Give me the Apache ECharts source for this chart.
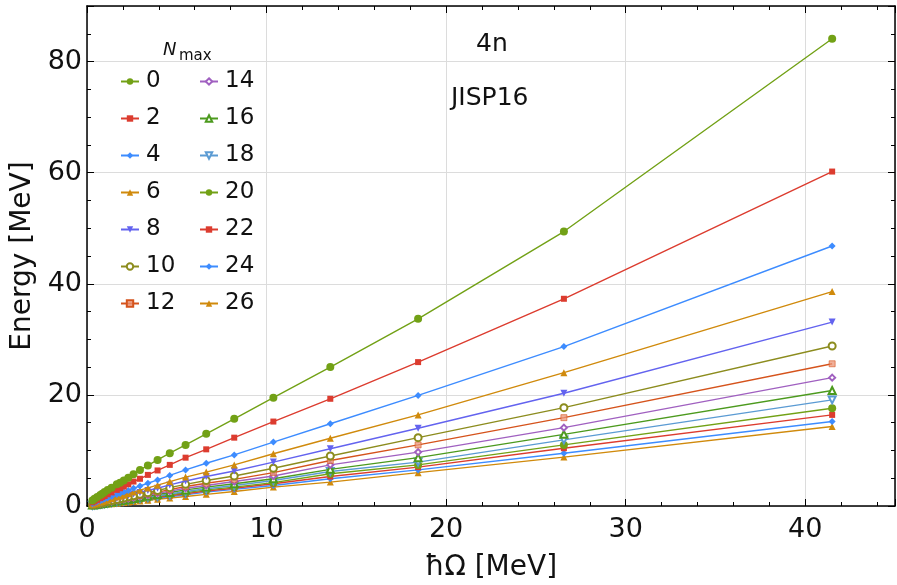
<!DOCTYPE html>
<html>
<head>
<meta charset="utf-8">
<script src="https://cdn.jsdelivr.net/npm/echarts@6/dist/echarts.min.js"></script>
<style>
html, body { margin: 0; padding: 0; background: #fff; }
#main { width: 897px; height: 585px; }
</style>
</head>
<body>
<div id="main"></div>
<script>
// hbar*Omega values [MeV], shared by every Nmax curve
var hw = [41.5, 26.56, 18.44, 13.55, 10.38, 8.2, 6.64, 5.49, 4.61, 3.93, 3.39, 2.95, 2.59, 2.3, 2.05, 1.84, 1.66, 1.37, 1.15, 0.98, 0.85, 0.74, 0.57, 0.42, 0.3];

var nmaxList = ['0', '2', '4', '6', '8', '10', '12', '14', '16', '18', '20', '22', '24', '26'];

// energies [MeV] per Nmax, same order as hw
var e0  = [84.1, 49.4, 33.7, 25.0, 19.5, 15.7, 13.0, 11.0, 9.5, 8.3, 7.3, 6.5, 5.7, 5.1, 4.6, 4.2, 3.9, 3.3, 2.9, 2.5, 2.2, 2.0, 1.6, 1.3, 1.0];
var e2  = [60.2, 37.3, 25.9, 19.3, 15.2, 12.3, 10.2, 8.7, 7.4, 6.4, 5.6, 4.9, 4.4, 3.9, 3.5, 3.2, 2.9, 2.45, 2.1, 1.8, 1.6, 1.4, 1.1, 0.85, 0.65];
var e4  = [46.8, 28.7, 19.9, 14.8, 11.5, 9.2, 7.7, 6.5, 5.5, 4.7, 4.1, 3.6, 3.2, 2.8, 2.5, 2.25, 2.05, 1.7, 1.45, 1.25, 1.1, 0.95, 0.75, 0.55, 0.4];
var e6  = [38.6, 24.0, 16.4, 12.2, 9.4, 7.4, 6.1, 5.2, 4.4, 3.75, 3.25, 2.85, 2.5, 2.2, 1.95, 1.75, 1.6, 1.3, 1.1, 0.95, 0.82, 0.72, 0.55, 0.41, 0.3];
var e8  = [33.1, 20.3, 14.0, 10.3, 7.9, 6.3, 5.3, 4.5, 3.8, 3.2, 2.8, 2.45, 2.15, 1.9, 1.7, 1.5, 1.35, 1.12, 0.95, 0.8, 0.7, 0.6, 0.47, 0.35, 0.25];
var e10 = [28.8, 17.7, 12.3, 9.0, 6.8, 5.4, 4.6, 3.9, 3.3, 2.8, 2.4, 2.1, 1.85, 1.65, 1.45, 1.3, 1.18, 0.97, 0.82, 0.7, 0.6, 0.52, 0.4, 0.3, 0.21];
var e12 = [25.6, 15.9, 11.0, 8.2, 6.0, 4.8, 4.1, 3.5, 2.95, 2.5, 2.17, 1.9, 1.66, 1.47, 1.31, 1.18, 1.06, 0.88, 0.74, 0.63, 0.54, 0.47, 0.36, 0.27, 0.19];
var e14 = [23.1, 14.1, 9.7, 7.4, 5.4, 4.4, 3.7, 3.2, 2.67, 2.28, 1.97, 1.71, 1.5, 1.33, 1.19, 1.07, 0.96, 0.79, 0.67, 0.57, 0.49, 0.43, 0.33, 0.24, 0.17];
var e16 = [20.8, 12.9, 8.7, 6.6, 4.9, 4.0, 3.4, 2.9, 2.44, 2.08, 1.8, 1.56, 1.37, 1.22, 1.09, 0.98, 0.88, 0.73, 0.61, 0.52, 0.45, 0.39, 0.3, 0.22, 0.16];
var e18 = [19.1, 11.9, 7.9, 6.2, 4.6, 3.7, 3.1, 2.6, 2.17, 1.85, 1.59, 1.39, 1.22, 1.08, 0.96, 0.86, 0.78, 0.64, 0.54, 0.46, 0.4, 0.35, 0.27, 0.2, 0.14];
var e20 = [17.6, 11.0, 7.4, 5.8, 4.2, 3.4, 2.9, 2.4, 2.03, 1.73, 1.49, 1.3, 1.14, 1.01, 0.9, 0.81, 0.73, 0.6, 0.51, 0.43, 0.37, 0.33, 0.25, 0.18, 0.13];
var e22 = [16.4, 10.4, 7.0, 5.3, 4.0, 3.2, 2.7, 2.2, 1.84, 1.57, 1.36, 1.18, 1.04, 0.92, 0.82, 0.74, 0.66, 0.55, 0.46, 0.39, 0.34, 0.3, 0.23, 0.17, 0.12];
var e24 = [15.2, 9.5, 6.5, 4.9, 3.7, 3.0, 2.5, 2.0, 1.66, 1.41, 1.22, 1.06, 0.93, 0.83, 0.74, 0.66, 0.6, 0.49, 0.41, 0.35, 0.31, 0.27, 0.21, 0.15, 0.11];
var e26 = [14.3, 8.8, 6.0, 4.3, 3.4, 2.6, 2.1, 1.7, 1.43, 1.22, 1.05, 0.91, 0.8, 0.71, 0.64, 0.57, 0.51, 0.42, 0.36, 0.3, 0.26, 0.23, 0.18, 0.13, 0.09];

var energies = [e0, e2, e4, e6, e8, e10, e12, e14, e16, e18, e20, e22, e24, e26];

var colors = ['#72a116', '#dc3c2f', '#3d8cff', '#d08a0c', '#6363ef', '#8c8c1e', '#d5531c', '#a060c0', '#4c9a1e', '#5b9bd3', '#72a116', '#dc3c2f', '#3d8cff', '#d08a0c'];
var symbols = ['circle', 'rect', 'diamond', 'triangle', 'triangle', 'emptyCircle', 'rect', 'emptyDiamond', 'emptyTriangle', 'emptyTriangle', 'circle', 'rect', 'diamond', 'triangle'];
var rotations = [0, 0, 0, 0, 180, 0, 0, 0, 0, 180, 0, 0, 0, 0];
var sizes = [8, 6, 7, 7, 7, 7, 6, 6, 7, 7, 8, 6, 7, 7];

var font = 'DejaVu Sans';

var series = nmaxList.map(function (name, k) {
    var item = { color: colors[k], borderWidth: 0.8 };
    if (k === 6) {
        item = { color: 'rgba(235,150,120,0.75)', borderColor: colors[k], borderWidth: 0.6 };
    }
    return {
        name: name,
        type: 'line',
        data: hw.map(function (x, i) { return [x, energies[k][i]]; }),
        symbol: symbols[k],
        symbolRotate: rotations[k],
        symbolSize: sizes[k],
        showAllSymbol: true,
        lineStyle: { color: colors[k], width: 1.4 },
        itemStyle: item,
        emphasis: { disabled: true },
        animation: false,
        z: 20 - k
    };
});

var legendBase = {
    orient: 'vertical',
    padding: 0,
    itemWidth: 18,
    itemHeight: 8,
    itemGap: 14,
    textStyle: { fontFamily: font, fontSize: 23, color: '#111', lineHeight: 23, padding: [0, 0, 0, 2] },
    selectedMode: false
};

var chart = echarts.init(document.getElementById('main'));
chart.setOption({
    backgroundColor: '#fff',
    animation: false,
    color: colors,
    grid: { left: 87, right: 2, top: 6, bottom: 79, outerBoundsMode: 'none' },
    legend: [
        Object.assign({}, legendBase, { data: nmaxList.slice(0, 7), left: 120, top: 70 }),
        Object.assign({}, legendBase, { data: nmaxList.slice(7), left: 199, top: 70 })
    ],
    graphic: [
        { type: 'text', left: 163, top: 41, style: { text: 'N', fontFamily: font, fontStyle: 'italic', fontSize: 18, fill: '#111' } },
        { type: 'text', left: 179, top: 49, style: { text: 'max', fontFamily: font, fontSize: 15, fill: '#111' } },
        { type: 'text', left: 476, top: 32, style: { text: '4n', fontFamily: font, fontSize: 25, fill: '#111' } },
        { type: 'text', left: 451, top: 86, style: { text: 'JISP16', fontFamily: font, fontSize: 25, fill: '#111' } }
    ],
    xAxis: [{
        type: 'value',
        min: 0, max: 45, interval: 10,
        name: 'ħΩ [MeV]',
        nameLocation: 'middle',
        nameGap: 48,
        nameTextStyle: { fontFamily: font, fontSize: 28, color: '#111' },
        axisLine: { onZero: false, lineStyle: { color: '#000', width: 1.5 } },
        axisTick: { inside: true, length: 7, lineStyle: { color: '#000' } },
        minorTick: { show: true, splitNumber: 5, length: 4, lineStyle: { color: '#000' } },
        axisLabel: { fontFamily: font, fontSize: 27, color: '#111', margin: 10, showMaxLabel: false },
        splitLine: { show: true, lineStyle: { color: '#dcdcdc', width: 1 } }
    }, {
        type: 'value',
        position: 'top',
        min: 0, max: 45, interval: 10,
        axisLine: { onZero: false, lineStyle: { color: '#000', width: 1.5 } },
        axisTick: { inside: true, length: 7, lineStyle: { color: '#000' } },
        minorTick: { show: true, splitNumber: 5, length: 4, lineStyle: { color: '#000' } },
        axisLabel: { show: false },
        splitLine: { show: false }
    }],
    yAxis: [{
        type: 'value',
        min: 0, max: 90, interval: 20,
        name: 'Energy [MeV]',
        nameLocation: 'middle',
        nameGap: 44,
        nameTextStyle: { fontFamily: font, fontSize: 28, color: '#111' },
        axisLine: { onZero: false, lineStyle: { color: '#000', width: 1.5 } },
        axisTick: { inside: true, length: 7, lineStyle: { color: '#000' } },
        minorTick: { show: true, splitNumber: 4, length: 4, lineStyle: { color: '#000' } },
        axisLabel: { fontFamily: font, fontSize: 27, color: '#111', margin: 5, showMaxLabel: false },
        splitLine: { show: true, lineStyle: { color: '#dcdcdc', width: 1 } }
    }, {
        type: 'value',
        position: 'right',
        min: 0, max: 90, interval: 20,
        axisLine: { onZero: false, lineStyle: { color: '#000', width: 1.5 } },
        axisTick: { inside: true, length: 7, lineStyle: { color: '#000' } },
        minorTick: { show: true, splitNumber: 4, length: 4, lineStyle: { color: '#000' } },
        axisLabel: { show: false },
        splitLine: { show: false }
    }],
    series: series
});
</script>
</body>
</html>
